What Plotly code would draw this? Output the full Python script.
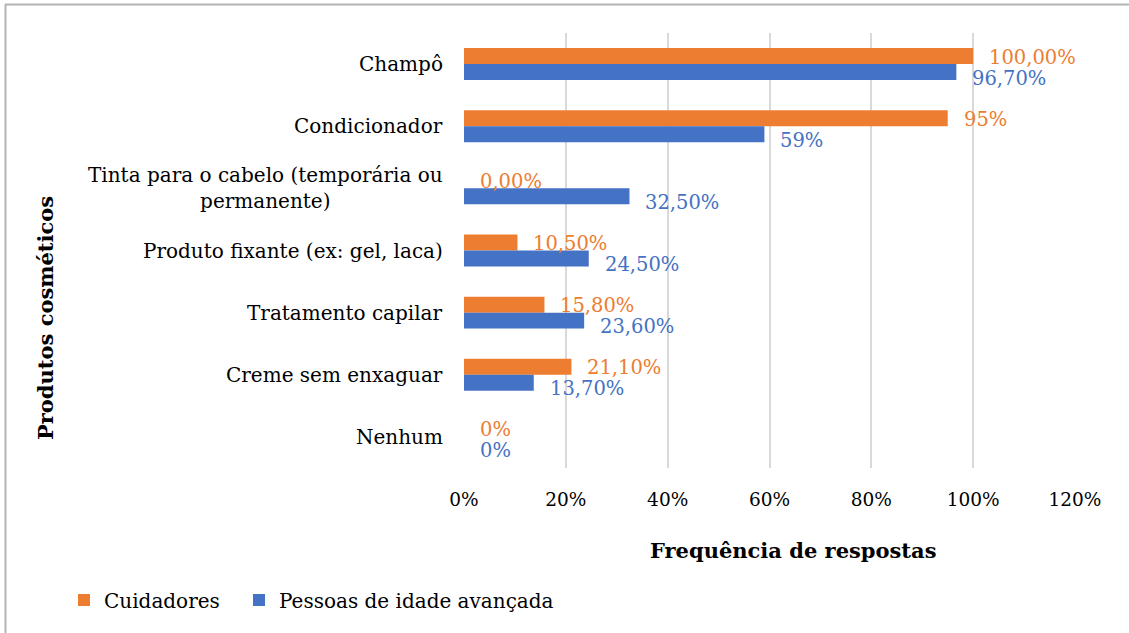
import plotly.graph_objects as go

categories = ["Champô", "Condicionador", "Tinta para o cabelo (temporária ou<br>permanente)",
              "Produto fixante (ex: gel, laca)", "Tratamento capilar", "Creme sem enxaguar", "Nenhum"]
cuidadores = [1.00, 0.95, 0.0, 0.105, 0.158, 0.211, 0.0]
pessoas = [0.967, 0.59, 0.325, 0.245, 0.236, 0.137, 0.0]
cuidadores_labels = ["100,00%", "95%", "0,00%", "10,50%", "15,80%", "21,10%", "0%"]
pessoas_labels = ["96,70%", "59%", "32,50%", "24,50%", "23,60%", "13,70%", "0%"]
x_ticks = [0, 0.2, 0.4, 0.6, 0.8, 1.0, 1.2]
x_ticklabels = ["0%", "20%", "40%", "60%", "80%", "100%", "120%"]

ORANGE = "#ED7D31"
BLUE = "#4472C4"
FONT = "DejaVu Serif"

fig = go.Figure()
fig.add_trace(go.Bar(y=categories, x=cuidadores, orientation="h", name="Cuidadores",
                     marker=dict(color=ORANGE, line=dict(width=0)), legend="legend"))
fig.add_trace(go.Bar(y=categories, x=pessoas, orientation="h", name="Pessoas de idade avançada",
                     marker=dict(color=BLUE, line=dict(width=0)), legend="legend2"))

annotations = []
for cat, v, lab in zip(categories, cuidadores, cuidadores_labels):
    annotations.append(dict(x=v, y=cat, xref="x", yref="y", text=lab, showarrow=False,
                            xanchor="left", yanchor="middle", xshift=14, yshift=7,
                            font=dict(family=FONT, size=19.5, color=ORANGE)))
for cat, v, lab in zip(categories, pessoas, pessoas_labels):
    annotations.append(dict(x=v, y=cat, xref="x", yref="y", text=lab, showarrow=False,
                            xanchor="left", yanchor="middle", xshift=14, yshift=-14,
                            font=dict(family=FONT, size=19.5, color=BLUE)))
for cat in categories:
    annotations.append(dict(x=-0.031, y=cat, xref="paper", yref="y", text=cat, showarrow=False,
                            xanchor="right", yanchor="middle", align="center",
                            font=dict(family=FONT, size=20, color="#000000")))
annotations.append(dict(x=(45 - 464) / 611, y=(468 - 318) / 435, xref="paper", yref="paper",
                        text="<b>Produtos cosméticos</b>", textangle=-90, showarrow=False,
                        xanchor="center", yanchor="middle",
                        font=dict(family=FONT, size=21, color="#000000")))
annotations.append(dict(x=(793 - 464) / 611, y=(468 - 550) / 435, xref="paper", yref="paper",
                        text="<b>Frequência de respostas</b>", showarrow=False,
                        xanchor="center", yanchor="middle",
                        font=dict(family=FONT, size=21, color="#000000")))

legend_common = dict(orientation="h", xanchor="left", yanchor="middle",
                     font=dict(family=FONT, size=20, color="#000000"),
                     itemwidth=30, bgcolor="rgba(0,0,0,0)")

fig.update_layout(
    width=1129, height=633,
    margin=dict(l=464, r=54, t=33, b=165),
    paper_bgcolor="white", plot_bgcolor="white",
    barmode="group", bargap=0.486, bargroupgap=0,
    font=dict(family=FONT, size=20, color="#000000"),
    showlegend=True,
    legend=dict(x=(64 - 464) / 611, y=(468 - 600) / 435, **legend_common),
    legend2=dict(x=(239 - 464) / 611, y=(468 - 600) / 435, **legend_common),
    annotations=annotations,
    shapes=[
        dict(type="line", xref="paper", yref="paper", x0=(5 - 464) / 611, x1=(1129 - 464) / 611,
             y0=(468 - 4.5) / 435, y1=(468 - 4.5) / 435, line=dict(color="#b4b4b4", width=2)),
        dict(type="line", xref="paper", yref="paper", x0=(5.5 - 464) / 611, x1=(5.5 - 464) / 611,
             y0=(468 - 4) / 435, y1=(468 - 633) / 435, line=dict(color="#b4b4b4", width=2)),
    ],
)
fig.update_xaxes(range=[0, 1.2], tickvals=x_ticks, ticktext=x_ticklabels,
                 showgrid=True, gridcolor="#d9d9d9", gridwidth=1.5,
                 zeroline=False, showline=False, ticks="", ticklabelstandoff=18,
                 tickfont=dict(family=FONT, size=18.5, color="#000000"))
fig.update_yaxes(categoryorder="array", categoryarray=categories, autorange="reversed",
                 showticklabels=False, showgrid=False, zeroline=False,
                 showline=False)

fig.write_html("out.html", config={"displayModeBar": False},
               post_script="document.body.style.margin='0';document.body.style.overflow='hidden';")
